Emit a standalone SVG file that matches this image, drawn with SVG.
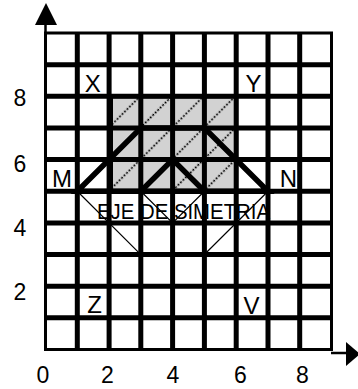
<svg xmlns="http://www.w3.org/2000/svg" width="358" height="389" viewBox="0 0 358 389">
<style>
.t{font-family:"Liberation Sans",Arial,sans-serif;fill:#000;text-anchor:middle}
.lbl{font-size:24px}
.num{font-size:23px}
.g{stroke:#000;fill:none}
</style>
<defs>
<pattern id="hatch" patternUnits="userSpaceOnUse" width="22.41" height="3.5" patternTransform="rotate(45)">
<line x1="10.3" y1="0" x2="10.3" y2="3.5" stroke="#000" stroke-width="1.6" stroke-dasharray="2 1.5"/>
</pattern>
</defs>
<rect width="358" height="389" fill="#fff"/>
<g id="shaded">
<rect x="109.1" y="96.3" width="127.1" height="94.95" fill="#d2d2d2"/>
<rect x="109.1" y="96.3" width="127.1" height="94.95" fill="url(#hatch)"/>
</g>
<g id="grid" class="g">
<path stroke-width="5" d="M77.3 33V349.5M109.1 33V349.5M140.8 33V349.5M172.6 33V349.5M204.4 33V349.5M236.2 33V349.5M268 33V349.5M299.7 33V349.5M45.5 64.65H331.5M45.5 96.3H331.5M45.5 127.95H331.5M45.5 159.6H331.5M45.5 191.25H331.5M45.5 222.9H331.5M45.5 254.55H331.5M45.5 286.2H331.5M45.5 317.85H331.5"/>
<rect x="45.5" y="33" width="286" height="316.5" stroke-width="3"/>
<rect x="111" y="96.3" width="125.2" height="94.95" stroke-width="4"/>
</g>
<g id="axes">
<line x1="45.5" y1="24" x2="45.5" y2="34" stroke="#000" stroke-width="2.5"/>
<polygon points="46,3 35,25 57,25" fill="#000"/>
<line x1="331" y1="353" x2="347" y2="353" stroke="#000" stroke-width="2.5"/>
<polygon points="346,342 346,366 360,354" fill="#000"/>
</g>
<g id="connectors">
<polygon points="77.3,191.25 140.8,127.95 204.4,127.95 268,191.25" fill="none" stroke="#000" stroke-width="5.5" stroke-linejoin="miter"/>
<polyline points="140.8,191.25 172.6,159.6 204.4,191.25" fill="none" stroke="#000" stroke-width="5.5"/>
<path d="M77.3 191.25L140.8 254.55M140.8 191.25L172.6 222.9L204.4 191.25M268 191.25L204.4 254.55" fill="none" stroke="#000" stroke-width="1.2"/>
</g>
<g id="labels">
<text class="t lbl" x="92.7" y="92">X</text>
<text class="t lbl" x="253.5" y="92">Y</text>
<text class="t lbl" x="62" y="187">M</text>
<text class="t lbl" x="288.5" y="187">N</text>
<text class="t lbl" x="94.5" y="313">Z</text>
<text class="t lbl" x="251.5" y="314">V</text>
<text class="t" style="font-size:22px" x="183.5" y="219" textLength="173" lengthAdjust="spacingAndGlyphs">EJE DE SIMETRIA</text>
</g>
<g id="ticks">
<text class="t num" x="20" y="106">8</text>
<text class="t num" x="20" y="171.5">6</text>
<text class="t num" x="20" y="235.5">4</text>
<text class="t num" x="20" y="299.5">2</text>
<text class="t num" x="43" y="383">0</text>
<text class="t num" x="107.5" y="383">2</text>
<text class="t num" x="173" y="383">4</text>
<text class="t num" x="240.5" y="383">6</text>
<text class="t num" x="302.5" y="383">8</text>
</g>
</svg>
